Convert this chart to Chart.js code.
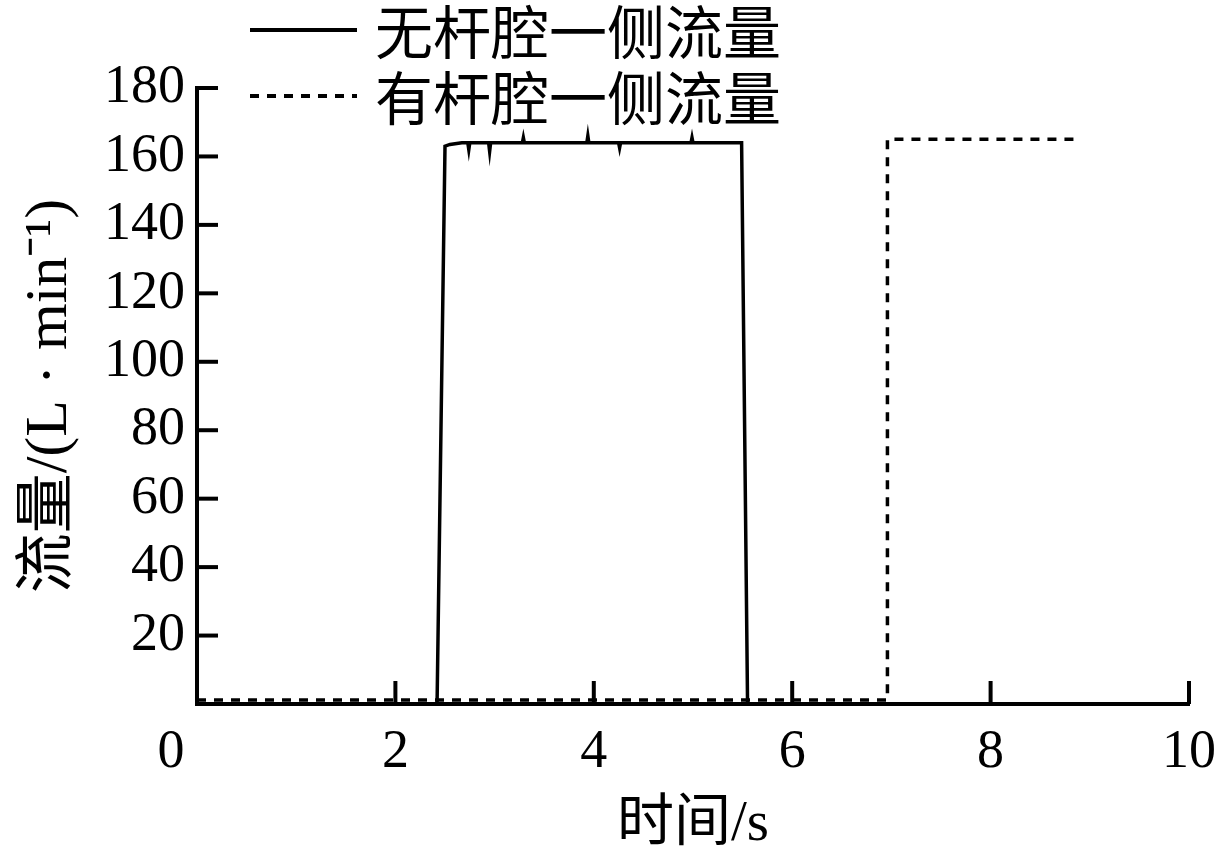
<!DOCTYPE html>
<html>
<head>
<meta charset="utf-8">
<script src="https://cdn.jsdelivr.net/npm/chart.js@4/dist/chart.umd.min.js"></script>
<style>
html,body{margin:0;padding:0;background:#fff;}
#wrap{width:1220px;height:859px;}
</style>
</head>
<body>
<div id="wrap"><canvas id="c" width="1220" height="859"></canvas></div>
<script>
// ---- data ----
const seriesNames = ['无杆腔一侧流量', '有杆腔一侧流量'];
const timeRodless = [0, 2.42, 2.50, 2.55, 2.67, 2.73, 2.74, 2.75, 2.94, 2.95, 2.96, 3.28, 3.29, 3.30, 3.93, 3.94, 3.95, 4.25, 4.26, 4.27, 4.98, 4.99, 5.00, 5.49, 5.55, 10];
const flowRodless = [0, 0, 163, 163.5, 164, 164, 162, 164, 164, 161.5, 164, 164, 165.5, 164, 164, 166, 164, 164, 162.5, 164, 164, 165.5, 164, 164, 0, 0];
const timeRod = [0, 6.96, 6.96, 8.90];
const flowRod = [1.2, 1.2, 165, 165];
const xTicks = [0, 2, 4, 6, 8, 10];
const yTicks = [20, 40, 60, 80, 100, 120, 140, 160, 180];
const xTitle = '时间/s';
const yTitle = '流量/(L · min⁻¹)';

const toPts = (xs, ys) => xs.map((x, i) => ({x: x, y: ys[i]}));
const latin = '"Liberation Serif", "Noto Sans CJK SC", serif';

const inwardTicks = {
  id: 'inwardTicks',
  afterDraw(chart) {
    const ctx = chart.ctx;
    const xs = chart.scales.x, ys = chart.scales.y;
    const a = chart.chartArea;
    ctx.save();
    ctx.strokeStyle = '#000';
    ctx.lineWidth = 4;
    ctx.lineCap = 'butt';
    xTicks.forEach(v => {
      if (v === 0) return;
      const px = xs.getPixelForValue(v);
      ctx.beginPath(); ctx.moveTo(px, a.bottom); ctx.lineTo(px, a.bottom - 23); ctx.stroke();
    });
    yTicks.forEach(v => {
      const py = ys.getPixelForValue(v);
      ctx.beginPath(); ctx.moveTo(a.left, py); ctx.lineTo(a.left + 21, py); ctx.stroke();
    });
    // origin "0" label at the corner, like the reference
    const items = xs.getLabelItems();
    const ref = items.find(it => it.label === '2');
    ctx.font = '54px ' + latin;
    ctx.fillStyle = '#000';
    ctx.textAlign = 'center';
    ctx.textBaseline = ref ? ref.options.textBaseline : 'middle';
    const y0 = ref ? ref.options.translation[1] + (ref.textOffset || 0) : a.bottom + 48;
    ctx.fillText('0', xs.getPixelForValue(0) - 26, y0);
    // legend
    const ds = chart.data.datasets;
    const rows = [30, 96];
    ds.forEach((d, i) => {
      ctx.save();
      ctx.lineWidth = 4;
      ctx.setLineDash(d.borderDash || []);
      ctx.beginPath();
      ctx.moveTo(250, rows[i]); ctx.lineTo(357, rows[i]);
      ctx.stroke();
      ctx.restore();
      ctx.font = '58px "Noto Sans CJK SC", sans-serif';
      ctx.textAlign = 'left';
      ctx.textBaseline = 'middle';
      ctx.fillText(d.label, 375, rows[i] + 2);
    });
    ctx.restore();
  }
};

new Chart(document.getElementById('c'), {
  type: 'line',
  data: {
    datasets: [
      {
        label: seriesNames[0],
        data: toPts(timeRodless, flowRodless),
        borderColor: '#000',
        borderWidth: 3.5,
        pointRadius: 0,
        tension: 0,
        fill: false,
        clip: false
      },
      {
        label: seriesNames[1],
        data: toPts(timeRod, flowRod),
        borderColor: '#000',
        borderWidth: 3.5,
        borderDash: [9, 8],
        pointRadius: 0,
        tension: 0,
        fill: false,
        clip: false
      }
    ]
  },
  options: {
    responsive: false,
    animation: false,
    layout: { padding: { top: 88, right: 31, left: 0, bottom: 0 } },
    plugins: { legend: { display: false }, tooltip: { enabled: false } },
    scales: {
      x: {
        type: 'linear',
        min: 0, max: 10,
        afterBuildTicks: s => { s.ticks = xTicks.map(v => ({value: v})); },
        afterFit: s => { s.height = 155; s.paddingLeft = 0; s.paddingRight = 0; },
        grid: { display: false, drawTicks: false },
        border: { display: true, color: '#000', width: 4 },
        ticks: {
          color: '#000',
          font: { family: latin, size: 54 },
          padding: 16,
          maxRotation: 0,
          callback: v => (v === 0 ? '' : String(v))
        },
        title: {
          display: true,
          text: xTitle,
          color: '#000',
          font: { family: latin, size: 57 },
          padding: { top: 0, bottom: 0 }
        }
      },
      y: {
        type: 'linear',
        min: 0, max: 180,
        afterBuildTicks: s => { s.ticks = yTicks.map(v => ({value: v})); },
        afterFit: s => { s.width = 197; s.paddingTop = 0; s.paddingBottom = 0; },
        grid: { display: false, drawTicks: false },
        border: { display: true, color: '#000', width: 4 },
        ticks: {
          color: '#000',
          font: { family: latin, size: 54 },
          padding: 12
        },
        title: {
          display: true,
          text: yTitle,
          color: '#000',
          font: { family: latin, size: 60 },
          padding: { top: 14, bottom: 0 }
        }
      }
    }
  },
  plugins: [inwardTicks]
});
</script>
</body>
</html>
